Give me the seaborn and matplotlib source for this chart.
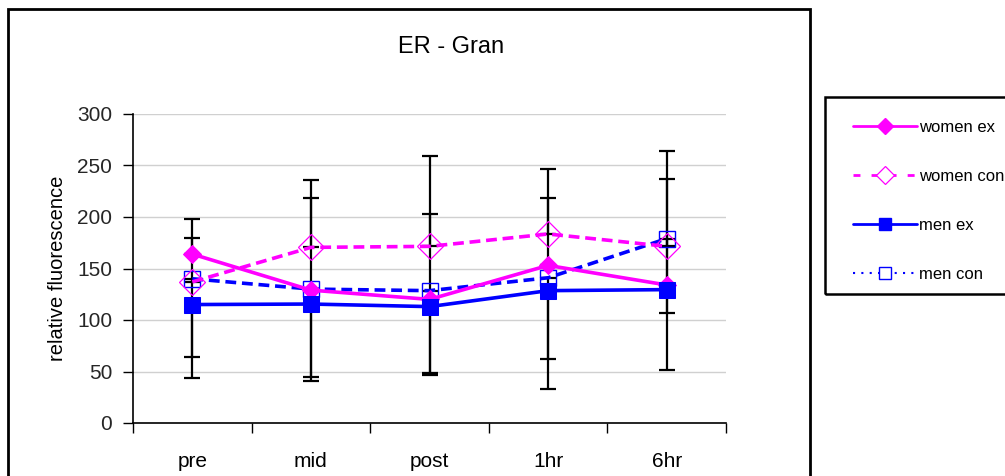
import matplotlib
matplotlib.use("Agg")
import matplotlib.pyplot as plt
import seaborn as sns
import numpy as np
import pandas as pd
from matplotlib.lines import Line2D
from matplotlib.patches import Rectangle

# ---- data ----
timepoints = ["pre", "mid", "post", "1hr", "6hr"]
women_ex = [164, 129, 120, 153, 134]
women_con = [137, 170.5, 171.5, 183.5, 171.5]
men_ex = [115, 115.5, 113, 128.5, 129.5]
men_con = [140, 130, 128.5, 141, 179]
# one-sided error bars (magnitudes)
women_ex_err_up = [16, 89, 83, 65, 103]
women_con_err_up = [61, 65.5, 87.5, 63.5, 92.5]
men_ex_err_down = [51, 70.5, 64.5, 66.5, 22.5]
men_con_err_down = [96, 89, 81.5, 108, 128]
yticks = [0, 50, 100, 150, 200, 250, 300]

sns.set_theme(style="white")
plt.rcParams['font.family'] = ['Liberation Sans', 'DejaVu Sans']

MAG = "#FF00FF"
BLU = "#0000FF"

fig = plt.figure(figsize=(10.05, 4.76), dpi=100)
ax = fig.add_axes([133/1005, 1-423/476, (726-133)/1005, (423-114)/476])

x = np.arange(len(timepoints))
df = pd.DataFrame({"x": x, "women ex": women_ex, "women con": women_con,
                   "men ex": men_ex, "men con": men_con})

# error bars (behind)
zeros = np.zeros(len(x))
ekw = dict(fmt="none", ecolor="black", elinewidth=1.6, capsize=6, capthick=1.6, zorder=2)
ax.errorbar(x, women_ex, yerr=[zeros, women_ex_err_up], **ekw)
ax.errorbar(x, women_con, yerr=[zeros, women_con_err_up], **ekw)
ax.errorbar(x, men_ex, yerr=[men_ex_err_down, zeros], **ekw)
ax.errorbar(x, men_con, yerr=[men_con_err_down, zeros], **ekw)

sns.lineplot(data=df, x="x", y="women ex", ax=ax, color=MAG, lw=2.6,
             marker="D", markersize=9, markerfacecolor=MAG, markeredgecolor=MAG, zorder=4)
sns.lineplot(data=df, x="x", y="women con", ax=ax, color=MAG, lw=2.6,
             dashes=(3, 1.6), marker="D", markersize=13, markerfacecolor="none",
             markeredgecolor=MAG, markeredgewidth=0.9, zorder=4)
sns.lineplot(data=df, x="x", y="men ex", ax=ax, color=BLU, lw=2.6,
             marker="s", markersize=11, markerfacecolor=BLU, markeredgecolor=BLU, zorder=5)
sns.lineplot(data=df, x="x", y="men con", ax=ax, color=BLU, lw=2.6,
             dashes=(3, 1.6), marker="s", markersize=12, markerfacecolor="none",
             markeredgecolor=BLU, markeredgewidth=1.0, zorder=3)

ax.set_xlim(-0.5, 4.5)
ax.set_ylim(0, 300)
ax.set_yticks(yticks)
ax.set_yticklabels([str(v) for v in yticks], fontsize=15)
ax.set_xticks(x)
ax.set_xticklabels(timepoints, fontsize=15)
ax.set_xticks(np.arange(-0.5, 5, 1), minor=True)
ax.tick_params(axis="x", which="major", length=0, pad=21, colors="black")
ax.tick_params(axis="x", which="minor", length=7, width=1, color="black", direction="out", bottom=True)
ax.tick_params(axis="y", length=7, width=1, color="black", direction="out", left=True, pad=8)
ax.grid(axis="y", color="#D0D0D0", lw=1)
ax.grid(axis="x", visible=False)
for s in ["top", "right"]:
    ax.spines[s].set_visible(False)
for s in ["left", "bottom"]:
    ax.spines[s].set_color("black")
    ax.spines[s].set_linewidth(1.2)
ax.set_xlabel("")
ax.set_ylabel("relative fluorescence", fontsize=14.5, color="black", labelpad=7)
fig.text(451/1005, 1-47/476, "ER - Gran", ha="center", va="center", fontsize=17, color="black")

# outer chart frame
fig.patches.append(Rectangle((8/1005, -0.1), (810-8)/1005, 1.1-9/476, transform=fig.transFigure,
                             fill=False, edgecolor="black", lw=2, zorder=0))
# legend frame
fig.patches.append(Rectangle((825/1005, 1-294/476), 0.3, (294-97)/476, transform=fig.transFigure,
                             fill=False, edgecolor="black", lw=1.8, zorder=0))

handles = [
    Line2D([], [], color=MAG, lw=2, marker="D", markersize=8, markerfacecolor=MAG),
    Line2D([], [], color=MAG, lw=2, dashes=(2.5, 4), marker="D", markersize=9,
           markerfacecolor="white", markeredgewidth=0.9),
    Line2D([], [], color=BLU, lw=2, marker="s", markersize=9, markerfacecolor=BLU),
    Line2D([], [], color=BLU, lw=1.5, dashes=(1, 3), marker="s", markersize=9,
           markerfacecolor="white", markeredgewidth=1.0),
]
leg = fig.legend(handles, ["women ex", "women con", "men ex", "men con"],
                 loc="upper left", bbox_to_anchor=(830/1005, 1-97/476),
                 fontsize=12, frameon=False,
                 handlelength=3.8, handletextpad=0.15, labelspacing=2.03,
                 borderpad=1.4, borderaxespad=0)
for t in leg.get_texts():
    t.set_color("black")

fig.savefig("out.png", dpi=100)
